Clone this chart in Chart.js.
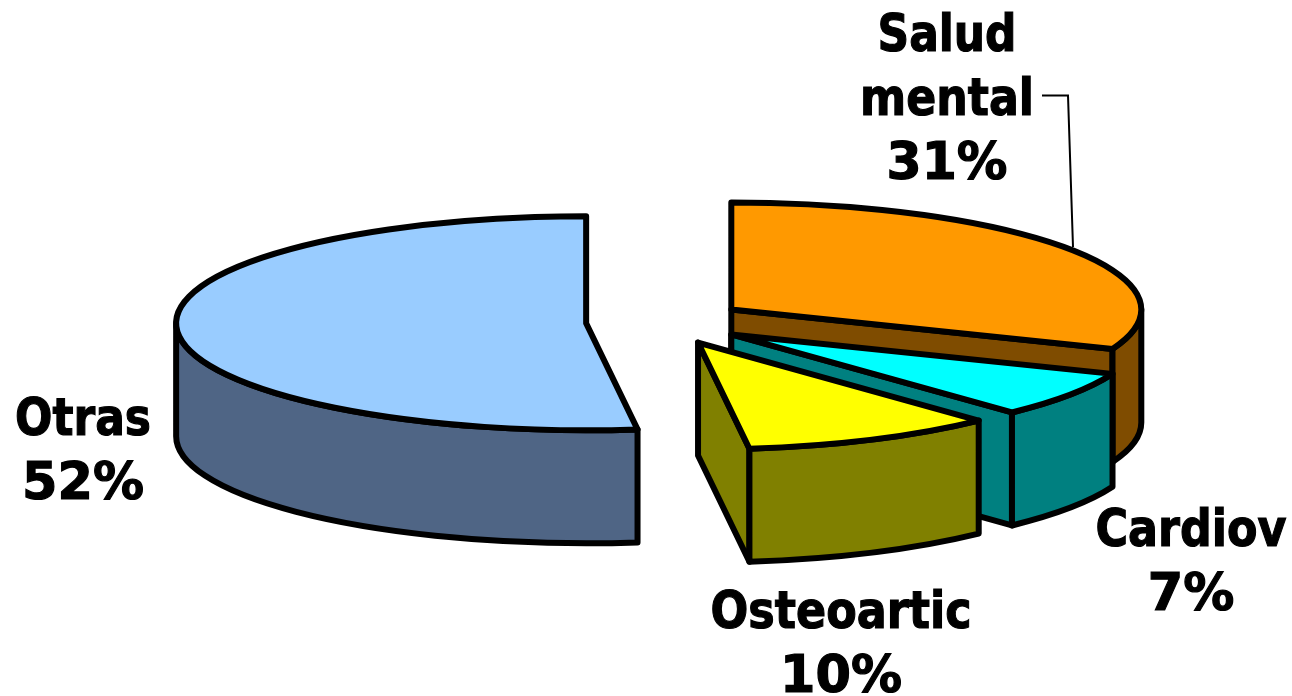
<!DOCTYPE html>
<html>
<head>
<meta charset="utf-8">
<style>html,body{margin:0;padding:0;background:#fff;overflow:hidden}canvas{display:block}</style>
<script src="https://cdn.jsdelivr.net/npm/chart.js@4"></script>
</head>
<body>
<canvas id="c" width="1292" height="696"></canvas>
<script>
const categories = ['Salud mental', 'Cardiov', 'Osteoartic', 'Otras'];
const values = [31, 7, 10, 52];
const topColors = ['#ff9900', '#00ffff', '#ffff00', '#99ccff'];
const sideColors = ['#7f4c00', '#008080', '#808000', '#4f6585'];
const explode = [85, 85, 87, 75];
const labelLines = [['Salud', 'mental'], ['Cardiov'], ['Osteoartic'], ['Otras']];
const labelCenters = [947, 1191, 841, 83];
const labelBaselines = [51, 546, 628, 435];
const labelWidths = [[139, 174, 121], [191, 91], [261, 122], [136, 122]];

const tilt = 0.261, depth = 113, stroke = 6, lineGap = 64;
let baseY = 0;

function tiltCtx(ctx) {
  ctx.translate(0, baseY * (1 - tilt));
  ctx.scale(1, tilt);
}
function paint(ctx, color, build) {
  ctx.save();
  tiltCtx(ctx);
  ctx.beginPath();
  build();
  ctx.closePath();
  ctx.restore();
  ctx.fillStyle = color;
  ctx.fill();
  ctx.strokeStyle = '#000';
  ctx.lineWidth = stroke;
  ctx.lineJoin = 'round';
  ctx.stroke();
}
const solid3d = {
  id: 'solid3d',
  afterDatasetsUpdate(chart) {
    // pull each slice out along its own middle angle
    const arcs = chart.getDatasetMeta(0).data;
    baseY = arcs[0].y;
    arcs.forEach((arc, i) => {
      const mid = (arc.startAngle + arc.endAngle) / 2;
      arc.x += Math.cos(mid) * explode[i];
      arc.y += Math.sin(mid) * explode[i];
    });
  },
  beforeDatasetsDraw(chart) {
    const ctx = chart.ctx, arcs = chart.getDatasetMeta(0).data;
    const drop = depth / tilt;
    [3, 0, 1, 2].forEach(i => {
      const arc = arcs[i], R = arc.outerRadius;
      const a0 = arc.startAngle, a1 = arc.endAngle;
      // cut faces turned towards the viewer
      [[a0, Math.cos(a0) < -1e-6], [a1, Math.cos(a1) > 1e-6]].forEach(([a, visible]) => {
        if (!visible) return;
        paint(ctx, sideColors[i], () => {
          ctx.moveTo(arc.x, arc.y);
          ctx.lineTo(arc.x + Math.cos(a) * R, arc.y + Math.sin(a) * R);
          ctx.lineTo(arc.x + Math.cos(a) * R, arc.y + Math.sin(a) * R + drop);
          ctx.lineTo(arc.x, arc.y + drop);
        });
      });
      // outer wall, front half only
      const f0 = Math.max(a0, 0), f1 = Math.min(a1, Math.PI);
      if (f1 > f0) {
        paint(ctx, sideColors[i], () => {
          ctx.arc(arc.x, arc.y, R, f0, f1);
          ctx.arc(arc.x, arc.y + drop, R, f1, f0, true);
        });
      }
    });
    ctx.save();
    tiltCtx(ctx);
  },
  afterDatasetsDraw(chart) {
    const ctx = chart.ctx, arcs = chart.getDatasetMeta(0).data;
    ctx.restore();
    [3, 0, 1, 2].forEach(i => {
      const arc = arcs[i];
      ctx.save();
      tiltCtx(ctx);
      ctx.beginPath();
      ctx.moveTo(arc.x, arc.y);
      ctx.arc(arc.x, arc.y, arc.outerRadius, arc.startAngle, arc.endAngle);
      ctx.closePath();
      ctx.restore();
      ctx.strokeStyle = '#000';
      ctx.lineWidth = stroke;
      ctx.lineJoin = 'round';
      ctx.stroke();
    });
    // leader line
    ctx.beginPath();
    ctx.moveTo(1042, 95.5);
    ctx.lineTo(1068, 95.5);
    ctx.lineTo(1073, 247);
    ctx.lineWidth = 2;
    ctx.lineJoin = 'miter';
    ctx.strokeStyle = '#000';
    ctx.stroke();
    // labels
    ctx.fillStyle = '#000';
    ctx.strokeStyle = '#000';
    ctx.lineWidth = 1.2;
    ctx.textAlign = 'center';
    ctx.textBaseline = 'alphabetic';
    ctx.font = 'bold 51px "DejaVu Sans"';
    categories.forEach((c, i) => {
      const lines = labelLines[i].concat(values[i] + '%');
      lines.forEach((t, k) => {
        const y = labelBaselines[i] + k * lineGap;
        ctx.fillText(t, labelCenters[i], y, labelWidths[i][k]);
        ctx.strokeText(t, labelCenters[i], y, labelWidths[i][k]);
      });
    });
  }
};
new Chart(document.getElementById('c'), {
  type: 'pie',
  data: {
    labels: categories,
    datasets: [{
      data: values,
      backgroundColor: topColors,
      borderWidth: 0,
      hoverOffset: 0,
      clip: false
    }]
  },
  options: {
    responsive: false,
    animation: false,
    radius: 410,
    rotation: 0,
    layout: {padding: {left: 30, bottom: 52}},
    events: [],
    plugins: {legend: {display: false}, tooltip: {enabled: false}}
  },
  plugins: [solid3d]
});
</script>
</body>
</html>
